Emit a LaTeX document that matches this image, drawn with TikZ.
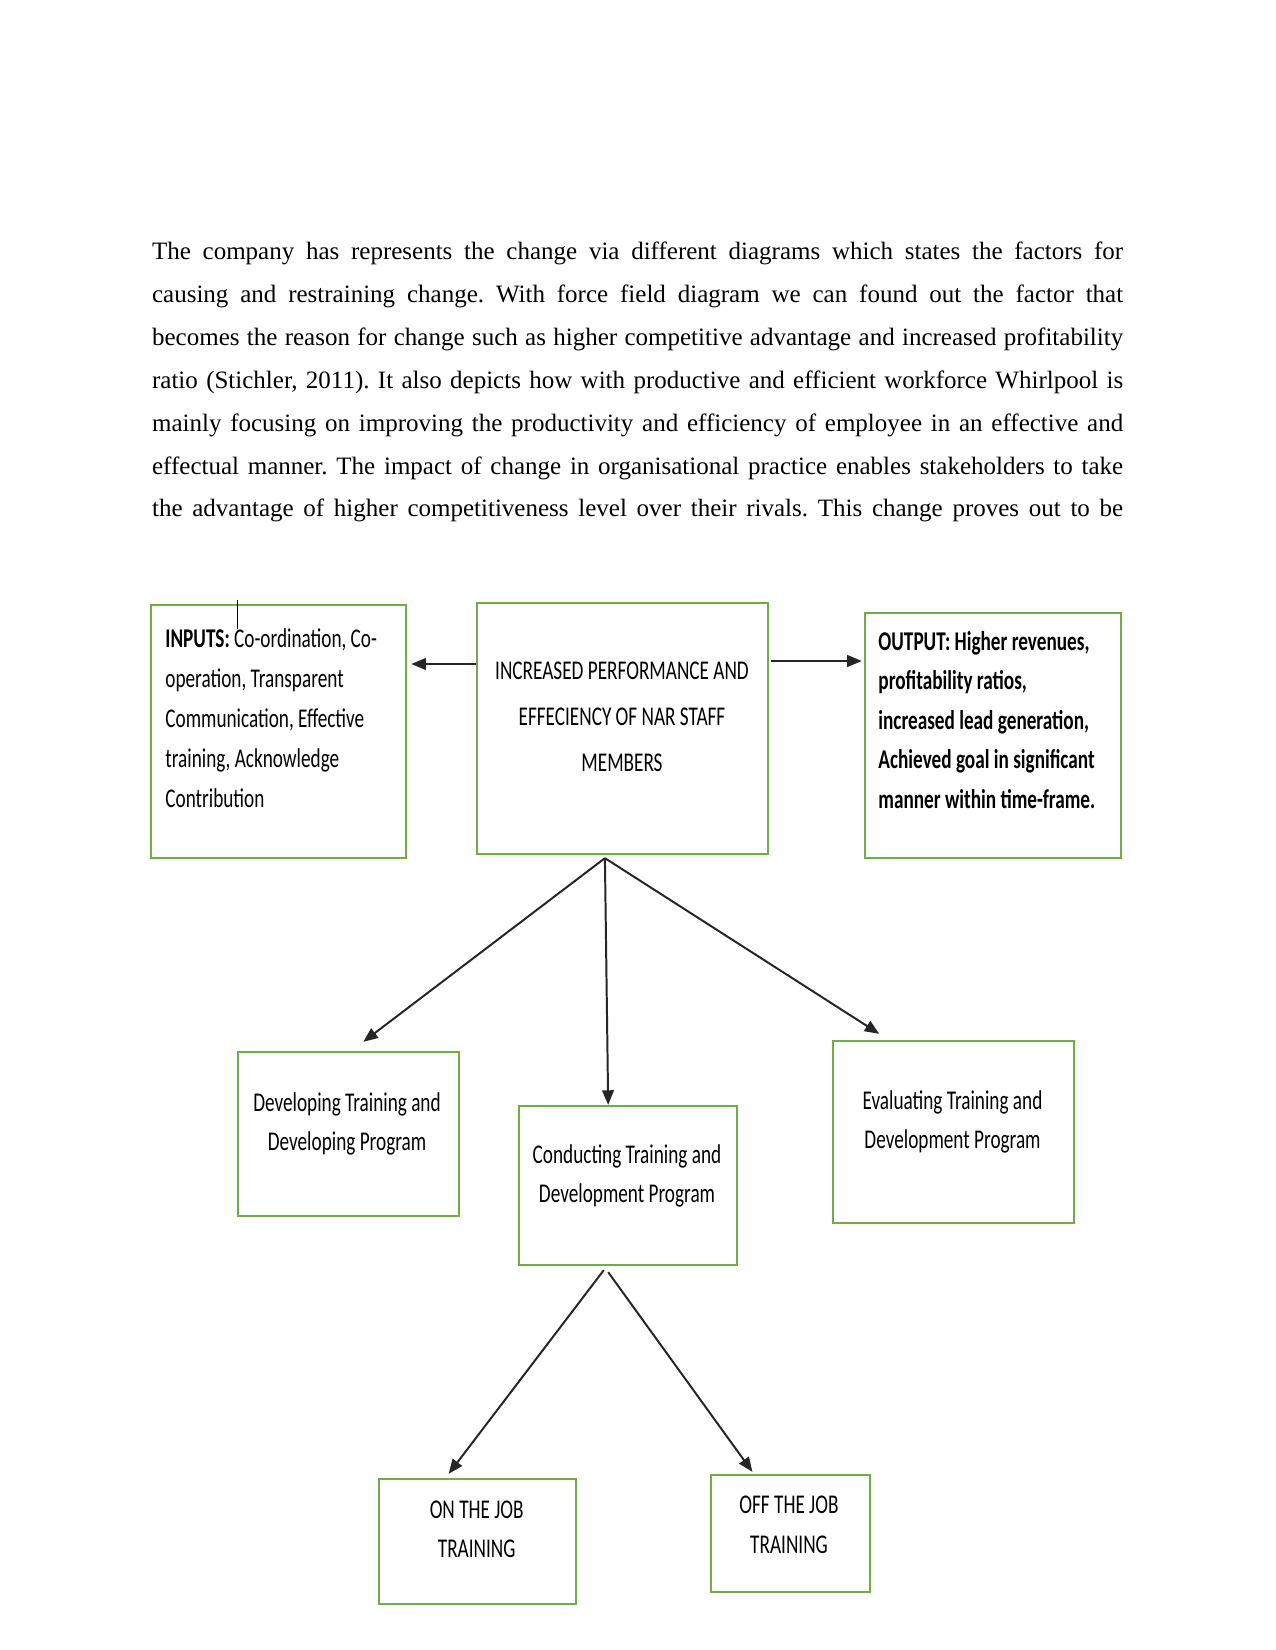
\documentclass[tikz,border=0pt]{standalone}
\usepackage{fontspec}
\setmainfont{Liberation Serif}
\newfontfamily\dfont[FakeStretch=0.71]{Carlito}
\usetikzlibrary{arrows.meta,fit,calc}
\definecolor{boxgreen}{HTML}{70AD47}
\definecolor{arrowgray}{HTML}{262626}
\frenchspacing
\newcommand{\pline}[1]{\makebox[466.1pt][s]{#1}}
\newcommand{\tblock}[3]{\parbox[t]{#1}{\dfont\fontsize{13pt}{#2}\selectfont #3}}
\tikzset{
  box/.style={draw=boxgreen, line width=1.1pt, inner sep=0pt},
  para/.style={anchor=base west, inner sep=0pt, font=\fontsize{12pt}{14pt}\selectfont},
  txtl/.style={anchor=base west, inner sep=0pt},
  txtc/.style={anchor=base, inner sep=0pt},
  arr/.style={draw=arrowgray, line width=0.95pt, -{Triangle[length=7pt,width=5.6pt]}},
  cursor/.style={draw=black, line width=0.5pt}
}
\begin{document}
\begin{tikzpicture}[x=0.48pt,y=-0.48pt]
\path[use as bounding box, fill=white] (0,0) rectangle (1275,1650);

% paragraph
\node[para] (p1) at (151.7,260.0) {\pline{The company has represents the change via different diagrams which states the factors for}};
\node[para] (p2) at (151.7,302.8) {\pline{causing and restraining change. With force field diagram we can found out the factor that}};
\node[para] (p3) at (151.7,345.6) {\pline{becomes the reason for change such as higher competitive advantage and increased profitability}};
\node[para] (p4) at (151.7,388.4) {\pline{ratio (Stichler, 2011). It also depicts how with productive and efficient workforce Whirlpool is}};
\node[para] (p5) at (151.7,431.2) {\pline{mainly focusing on improving the productivity and efficiency of employee in an effective and}};
\node[para] (p6) at (151.7,474.0) {\pline{effectual manner. The impact of change in organisational practice enables stakeholders to take}};
\node[para] (p7) at (151.7,516.8) {\pline{the advantage of higher competitiveness level over their rivals. This change proves out to be}};

% boxes
\node[box, fit={(151,605) (406,858)}] (inputs) {};
\node[box, fit={(477,603) (768,854)}] (center) {};
\node[box, fit={(865,613) (1121,858)}] (output) {};
\node[box, fit={(238,1052) (459,1216)}] (dev) {};
\node[box, fit={(519,1106) (737,1265)}] (cond) {};
\node[box, fit={(833,1041) (1074,1223)}] (eval) {};
\node[box, fit={(379,1479) (576,1604)}] (onjob) {};
\node[box, fit={(711,1475) (870,1592)}] (offjob) {};

% texts
\node[txtl] (tinputs) at (165,647) {\tblock{120pt}{19.2pt}{\textbf{INPUTS:} Co-ordination, Co-\\operation, Transparent\\Communication, Effective\\training, Acknowledge\\Contribution}};
\node[txtc] (tcenter) at (622,679) {\tblock{140pt}{22.3pt}{\centering INCREASED PERFORMANCE AND\\EFFECIENCY OF NAR STAFF\\MEMBERS}};
\node[txtl] (toutput) at (878,650) {\tblock{120pt}{19pt}{\bfseries OUTPUT: Higher revenues,\\profitability ratios,\\increased lead generation,\\Achieved goal in significant\\manner within time-frame.}};
\node[txtc] (tdev) at (347,1111) {\tblock{105pt}{18.8pt}{\centering Developing Training and\\Developing Program}};
\node[txtc] (tcond) at (627,1163) {\tblock{105pt}{18.8pt}{\centering Conducting Training and\\Development Program}};
\node[txtc] (teval) at (952.5,1109) {\tblock{110pt}{18.8pt}{\centering Evaluating Training and\\Development Program}};
\node[txtc] (ton) at (476.7,1518) {\tblock{90pt}{18.8pt}{\centering ON THE JOB\\TRAINING}};
\node[txtc] (toff) at (789,1513) {\tblock{75pt}{19.2pt}{\centering OFF THE JOB\\TRAINING}};

% text cursor mark
\coordinate (cur1) at (237.3,600);
\coordinate (cur2) at (237.3,629);
\draw[cursor] (cur1) -- (cur2);

% connectors
\coordinate (hl) at (0,664);
\coordinate (hr) at (0,661);
\draw[arr] (center.west |- hl) -- ([xshift=2pt]inputs.east |- hl);
\draw[arr] ([xshift=1pt]center.east |- hr) -- ([xshift=-1pt]output.west |- hr);

\coordinate (c1) at ($(center.south west)!0.44!(center.south east) + (0,3)$);
\draw[arr] (c1) -- ($(dev.north west)!0.566!(dev.north east) + (0,-9)$);
\draw[arr] (c1) -- ($(cond.north west)!0.41!(cond.north east)$);
\draw[arr] (c1) -- ($(eval.north west)!0.195!(eval.north east) + (0,-6)$);

\draw[arr] ($(cond.south west)!0.39!(cond.south east) + (0,4)$) -- ($(onjob.north west)!0.355!(onjob.north east) + (0,-4)$);
\draw[arr] ($(cond.south west)!0.41!(cond.south east) + (0,6)$) -- ($(offjob.north west)!0.264!(offjob.north east) + (0,-2)$);
\end{tikzpicture}
\end{document}
